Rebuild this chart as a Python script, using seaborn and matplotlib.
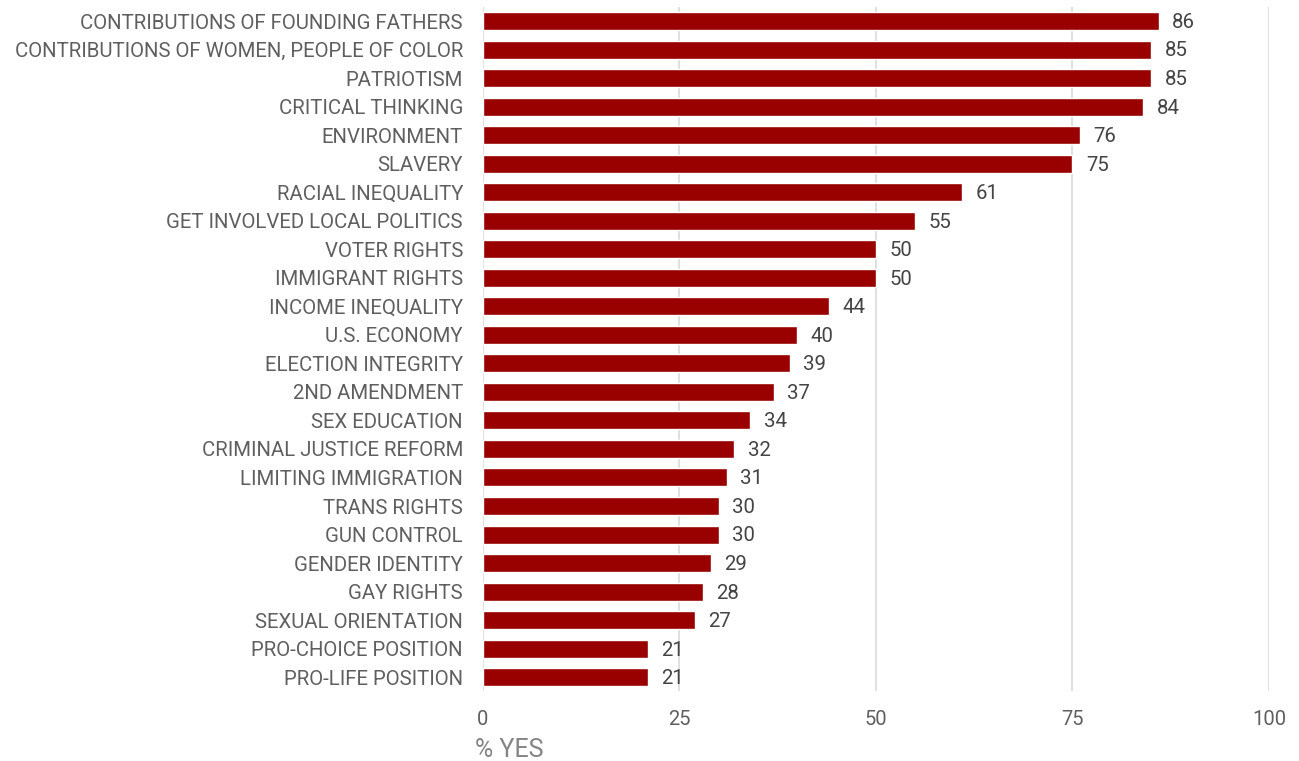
import matplotlib
matplotlib.use("Agg")
import matplotlib.pyplot as plt
import seaborn as sns
import pandas as pd

topics = [
    "CONTRIBUTIONS OF FOUNDING FATHERS",
    "CONTRIBUTIONS OF WOMEN, PEOPLE OF COLOR",
    "PATRIOTISM",
    "CRITICAL THINKING",
    "ENVIRONMENT",
    "SLAVERY",
    "RACIAL INEQUALITY",
    "GET INVOLVED LOCAL POLITICS",
    "VOTER RIGHTS",
    "IMMIGRANT RIGHTS",
    "INCOME INEQUALITY",
    "U.S. ECONOMY",
    "ELECTION INTEGRITY",
    "2ND AMENDMENT",
    "SEX EDUCATION",
    "CRIMINAL JUSTICE REFORM",
    "LIMITING IMMIGRATION",
    "TRANS RIGHTS",
    "GUN CONTROL",
    "GENDER IDENTITY",
    "GAY RIGHTS",
    "SEXUAL ORIENTATION",
    "PRO-CHOICE POSITION",
    "PRO-LIFE POSITION",
]
pct_yes = [86, 85, 85, 84, 76, 75, 61, 55, 50, 50, 44, 40, 39, 37, 34, 32, 31,
           30, 30, 29, 28, 27, 21, 21]
x_ticks = [0, 25, 50, 75, 100]

sns.set_theme(style="white")
plt.rcParams["font.family"] = ["Roboto", "DejaVu Sans"]

text_color = "#5f5f5f"
bar_color = "#990000"

df = pd.DataFrame({"topic": topics, "pct": pct_yes})

fig = plt.figure(figsize=(12.99, 7.61), dpi=100)
ax = fig.add_axes([0.3718, 0.0914, 0.6051, 0.8997])

sns.barplot(data=df, x="pct", y="topic", orient="h", color=bar_color,
            saturation=1, width=0.63, ax=ax, zorder=3)

ax.set_xlim(0, 100)
ax.set_ylim(len(topics) - 0.5, -0.5)
ax.set_xticks(x_ticks)
ax.set_xticklabels([str(t) for t in x_ticks])
ax.grid(axis="x", color="#dadada", linewidth=1.2, zorder=0)
ax.grid(axis="y", visible=False)
for s in ax.spines.values():
    s.set_visible(False)

ax.tick_params(axis="y", length=0, pad=14.4, labelsize=14.7, labelcolor=text_color)
ax.tick_params(axis="x", length=0, pad=13, labelsize=14.5, labelcolor=text_color)
ax.set_xlabel("")
ax.set_ylabel("")

for i, v in enumerate(pct_yes):
    ax.text(v + 1.7, i + 0.05, str(v), va="center", ha="left",
            fontsize=14.7, color="#444444")

fig.text(475 / 1299, 1 - 750 / 761, "% YES", ha="left", va="center",
         fontsize=18, color="#858585")

fig.savefig("out.png", dpi=100)
